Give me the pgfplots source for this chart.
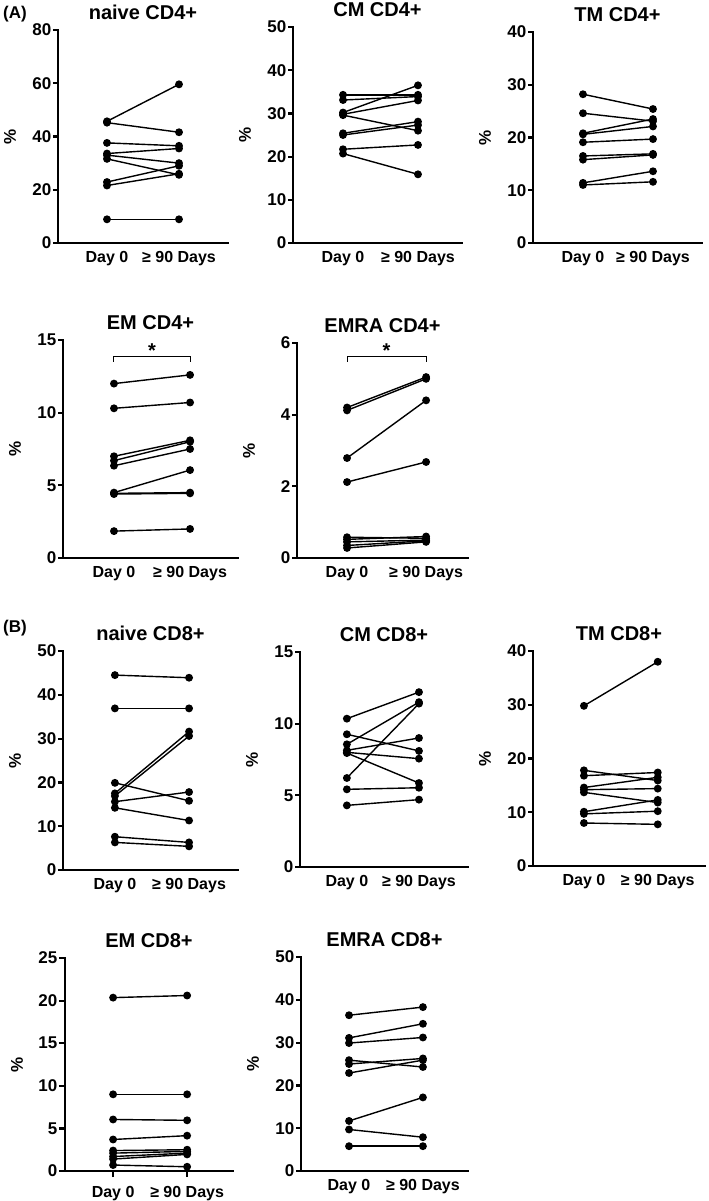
\documentclass[border=0pt]{standalone}
\usepackage{fontspec}
\setmainfont{Liberation Sans}
\usepackage{pgfplots}
\pgfplotsset{compat=1.18}
\newcommand\tickfont{\bfseries\fontsize{17bp}{17bp}\selectfont}
\newcommand\titlefont{\bfseries\fontsize{20bp}{20bp}\selectfont}
\newcommand\xlabfont{\bfseries\fontsize{16bp}{16bp}\selectfont}
\newcommand\pr[2]{\addplot[pl] coordinates {(0,#1) (1,#2)};}
\pgfplotsset{
 pl/.style={black, solid, line width=1.4bp, mark=*, mark size=3.2bp, mark options={solid, fill=black, draw=black}},
 noxt/.style={xtick style={draw=none}},
 prism/.style={
  scale only axis,
  axis lines=left,
  axis line style={-, line width=2.7bp, line cap=rect},
  enlargelimits=false,
  clip=false,
  ymin=0,
  xtick={0,1},
  xticklabels={Day 0, ≥ 90 Days},
  tick align=outside,
  major tick length=5bp,
  minor tick num=0,
  tick style={black, line width=2.2bp},
  /pgf/number format/assume math mode=true,
  yticklabel style={font=\tickfont, inner sep=1.5bp},
  xticklabel style={font=\xlabfont, anchor=base, inner sep=0pt, yshift=-14bp},
  title style={font=\titlefont, anchor=base, inner sep=0pt, at={(axis description cs:0.5,1)}, yshift=4.5bp},
  anchor=south west,
 },
}
\newcommand\pct{\node[rotate=90, font=\tickfont] at ([xshift=-48bp]rel axis cs:0,0.5) {\%};}
\begin{document}
\begin{tikzpicture}
\path[use as bounding box] (0,0) rectangle (709bp,-1201bp);
\node[anchor=base west, font=\tickfont, inner sep=0pt] at (3bp,-18bp) {(A)};
\node[anchor=base west, font=\tickfont, inner sep=0pt] at (3bp,-632bp) {(B)};

% naive CD4+
\begin{axis}[prism, noxt, at={(58bp,-243bp)}, width=170bp, height=213bp, xmin=-0.68, xmax=1.68, ymax=80, ytick={0,20,40,60,80}, title={naive CD4+}]
\pr{45.7}{59.6}
\pr{45.2}{41.6}
\pr{37.6}{36.5}
\pr{33.6}{35.5}
\pr{33.0}{30.0}
\pr{31.6}{25.6}
\pr{22.9}{29.0}
\pr{21.6}{26.0}
\pr{8.9}{8.9}
\pct
\end{axis}

% CM CD4+
\begin{axis}[prism, noxt, at={(293bp,-243bp)}, width=169bp, height=216bp, xmin=-0.667, xmax=1.587, ymax=50, ytick={0,10,20,30,40,50}, title={CM CD4+}]
\pr{34.3}{34.3}
\pr{33.1}{33.9}
\pr{30.2}{36.5}
\pr{29.8}{33.0}
\pr{29.6}{26.0}
\pr{25.4}{28.1}
\pr{25.0}{27.3}
\pr{21.7}{22.7}
\pr{20.7}{15.9}
\pct
\end{axis}

% TM CD4+
\begin{axis}[prism, noxt, at={(533bp,-243bp)}, width=169bp, height=211bp, xmin=-0.714, xmax=1.70, ymax=40, ytick={0,10,20,30,40}, title={TM CD4+}]
\pr{28.2}{25.4}
\pr{24.6}{23.1}
\pr{20.8}{23.5}
\pr{20.6}{22.1}
\pr{19.1}{19.7}
\pr{16.5}{16.9}
\pr{15.8}{16.7}
\pr{11.4}{13.6}
\pr{11.0}{11.6}
\pct
\end{axis}

% EM CD4+
\begin{axis}[prism, noxt, at={(63bp,-558bp)}, width=175bp, height=218bp, xmin=-0.67, xmax=1.63, ymax=15, ytick={0,5,10,15}, title={EM CD4+}]
\pr{12.0}{12.6}
\pr{10.3}{10.7}
\pr{7.0}{8.1}
\pr{6.7}{8.0}
\pr{6.35}{7.5}
\pr{4.5}{6.05}
\pr{4.45}{4.5}
\pr{4.4}{4.45}
\pr{1.85}{2.0}
\addplot[black, mark=none, line width=1bp] coordinates {(0,13.51) (0,13.85) (1,13.85) (1,13.51)};
\node[font=\titlefont] at (axis cs:0.5,14.25) {*};
\pct
\end{axis}

% EMRA CD4+
\begin{axis}[prism, noxt, at={(297bp,-558bp)}, width=171bp, height=215bp, xmin=-0.633, xmax=1.53, ymax=6, ytick={0,2,4,6}, title={EMRA CD4+}]
\pr{4.2}{5.05}
\pr{4.12}{5.0}
\pr{2.79}{4.4}
\pr{2.12}{2.68}
\pr{0.58}{0.55}
\pr{0.52}{0.6}
\pr{0.45}{0.5}
\pr{0.35}{0.48}
\pr{0.28}{0.45}
\addplot[black, mark=none, line width=1bp] coordinates {(0,5.48) (0,5.62) (1,5.62) (1,5.48)};
\node[font=\titlefont] at (axis cs:0.5,5.8) {*};
\pct
\end{axis}

% naive CD8+
\begin{axis}[prism, noxt, at={(63bp,-870bp)}, width=175bp, height=219bp, xmin=-0.70, xmax=1.66, ymax=50, ytick={0,10,20,30,40,50}, title={naive CD8+}]
\pr{44.5}{43.9}
\pr{36.9}{36.9}
\pr{17.5}{31.6}
\pr{16.9}{30.6}
\pr{19.9}{15.8}
\pr{15.6}{17.8}
\pr{14.2}{11.3}
\pr{7.6}{6.3}
\pr{6.3}{5.4}
\pct
\end{axis}

% CM CD8+
\begin{axis}[prism, noxt, at={(300bp,-867bp)}, width=168bp, height=215bp, xmin=-0.65, xmax=1.68, ymax=15, ytick={0,5,10,15}, title={CM CD8+}]
\pr{10.35}{12.2}
\pr{8.56}{11.5}
\pr{6.21}{11.4}
\pr{9.26}{8.1}
\pr{8.14}{9.0}
\pr{8.0}{7.56}
\pr{7.95}{5.86}
\pr{5.42}{5.53}
\pr{4.3}{4.7}
\pct
\end{axis}

% TM CD8+
\begin{axis}[prism, noxt, at={(533bp,-866bp)}, width=172bp, height=215bp, xmin=-0.69, xmax=1.64, ymax=40, ytick={0,10,20,30,40}, title={TM CD8+}]
\pr{29.8}{38.0}
\pr{17.8}{15.9}
\pr{16.8}{17.4}
\pr{14.6}{16.5}
\pr{14.2}{14.4}
\pr{13.7}{11.8}
\pr{10.1}{12.3}
\pr{9.7}{10.2}
\pr{8.0}{7.75}
\pct
\end{axis}

% EM CD8+
\begin{axis}[prism, at={(65bp,-1171bp)}, width=168bp, height=213bp, xmin=-0.65, xmax=1.62, ymax=25, ytick={0,5,10,15,20,25}, title={EM CD8+}, major tick length=6bp, xticklabel style={yshift=-6bp}]
\pr{20.35}{20.6}
\pr{9.0}{9.0}
\pr{6.05}{5.95}
\pr{3.7}{4.15}
\pr{2.4}{2.5}
\pr{2.1}{2.3}
\pr{1.7}{2.1}
\pr{1.4}{1.95}
\pr{0.7}{0.5}
\pct
\end{axis}

% EMRA CD8+
\begin{axis}[prism, noxt, at={(301bp,-1171bp)}, width=167bp, height=214bp, xmin=-0.65, xmax=1.61, ymax=50, ytick={0,10,20,30,40,50}, title={EMRA CD8+}]
\pr{36.4}{38.3}
\pr{31.1}{34.4}
\pr{29.9}{31.2}
\pr{25.9}{24.3}
\pr{25.0}{26.3}
\pr{22.9}{25.9}
\pr{11.7}{17.2}
\pr{9.7}{7.9}
\pr{5.8}{5.8}
\pct
\end{axis}
\end{tikzpicture}
\end{document}
